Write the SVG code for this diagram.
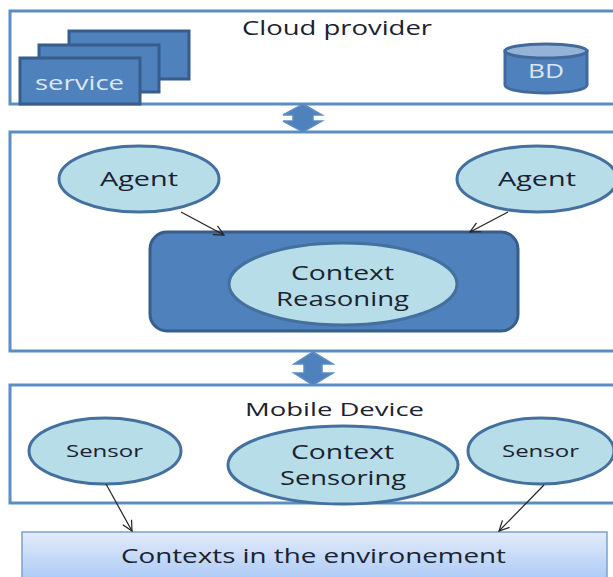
<svg xmlns="http://www.w3.org/2000/svg" width="613" height="577" viewBox="0 0 613 577">
<style>
text{font-family:"Open Sans","DejaVu Sans",sans-serif;fill:#1a2230}
.frame{fill:#fff;stroke:#5b8cc2;stroke-width:3}
.svc{fill:#4f81bd;stroke:#385d8a;stroke-width:3}
.ell{fill:#b7dde8;stroke:#43709f;stroke-width:3}
.dbl{fill:#4f81bd;stroke:#5b8cc2;stroke-width:1.5}
.lt{fill:#dce6f2}
.lnk{stroke:#222;stroke-width:1.2;fill:none;marker-end:url(#a)}
</style>
<defs>
<marker id="a" viewBox="0 0 12 12" refX="11" refY="6" markerWidth="12" markerHeight="12" orient="auto" markerUnits="userSpaceOnUse"><path d="M1 1L11 6L1 11" fill="none" stroke="#222" stroke-width="1.2"/></marker>
<linearGradient id="g" x1="0" y1="0" x2="0" y2="1"><stop offset="0" stop-color="#e3ecfb"/><stop offset="1" stop-color="#a9c8f4"/></linearGradient>
</defs>
<g id="cloud-provider">
<rect class="frame" x="10" y="11" width="610" height="93"/>
<text x="242" y="35" font-size="20" textLength="190" lengthAdjust="spacingAndGlyphs">Cloud provider</text>
</g>
<g id="services">
<rect class="svc" x="69" y="31" width="120" height="48"/>
<rect class="svc" x="39" y="45" width="120" height="47"/>
<rect class="svc" x="20" y="58" width="120" height="46"/>
<text x="35" y="90" font-size="20" textLength="89" lengthAdjust="spacingAndGlyphs" class="lt" style="fill:#dce6f2">service</text>
</g>
<g id="bd">
<path d="M505 51V85C505 90 525 93 546 93S587 90 587 85V51Z" fill="#4f81bd" stroke="#41699b" stroke-width="3"/>
<ellipse cx="546" cy="51" rx="41" ry="7" fill="#95b3d7" stroke="#41699b" stroke-width="3"/>
<text x="528" y="78" font-size="20" textLength="36" lengthAdjust="spacingAndGlyphs" style="fill:#dce6f2">BD</text>
</g>
<g id="reasoning-layer">
<rect class="frame" x="10" y="132" width="610" height="219"/>
</g>
<g id="agent-left"><ellipse class="ell" cx="139" cy="179" rx="80" ry="33"/><text x="100" y="186" font-size="20" textLength="78" lengthAdjust="spacingAndGlyphs">Agent</text></g>
<g id="agent-right"><ellipse class="ell" cx="537" cy="179" rx="80" ry="33"/><text x="498" y="186" font-size="20" textLength="78" lengthAdjust="spacingAndGlyphs">Agent</text></g>
<g id="context-reasoning">
<rect x="150" y="232" width="368" height="99" rx="17" fill="#4f81bd" stroke="#385d8a" stroke-width="3"/>
<ellipse class="ell" cx="343" cy="284" rx="114" ry="41"/>
<text x="291" y="280" font-size="20" textLength="103" lengthAdjust="spacingAndGlyphs">Context</text>
<text x="276" y="306" font-size="20" textLength="133" lengthAdjust="spacingAndGlyphs">Reasoning</text>
</g>
<g id="mobile-device">
<rect class="frame" x="10" y="385" width="610" height="118"/>
<text x="245" y="416" font-size="19" textLength="179" lengthAdjust="spacingAndGlyphs">Mobile Device</text>
</g>
<g id="sensor-left"><ellipse class="ell" cx="105" cy="451" rx="76" ry="33"/><text x="66" y="457" font-size="17" textLength="77" lengthAdjust="spacingAndGlyphs">Sensor</text></g>
<g id="context-sensoring">
<ellipse class="ell" cx="343" cy="465" rx="115" ry="39"/>
<text x="291" y="459" font-size="20" textLength="103" lengthAdjust="spacingAndGlyphs">Context</text>
<text x="280" y="485" font-size="20" textLength="126" lengthAdjust="spacingAndGlyphs">Sensoring</text>
</g>
<g id="sensor-right"><ellipse class="ell" cx="541" cy="451" rx="73" ry="33"/><text x="502" y="457" font-size="17" textLength="77" lengthAdjust="spacingAndGlyphs">Sensor</text></g>
<g id="environment">
<rect x="22" y="532" width="585" height="50" fill="url(#g)" stroke="#7ba0cd" stroke-width="1.5"/>
<text x="121" y="563" font-size="20" textLength="385" lengthAdjust="spacingAndGlyphs">Contexts in the environement</text>
</g>
<g id="connectors">
<path class="dbl" d="M303 104L322 115H313V121H322L303 132L283 121H293V115H283Z"/>
<path class="dbl" d="M313 352L333 364H322V373H333L313 385L294 373H304V364H294Z"/>
<path class="lnk" d="M181 212L224 235"/>
<path class="lnk" d="M508 212L470 232"/>
<path class="lnk" d="M106 484L132 531"/>
<path class="lnk" d="M544 485L499 531"/>
</g>
</svg>
